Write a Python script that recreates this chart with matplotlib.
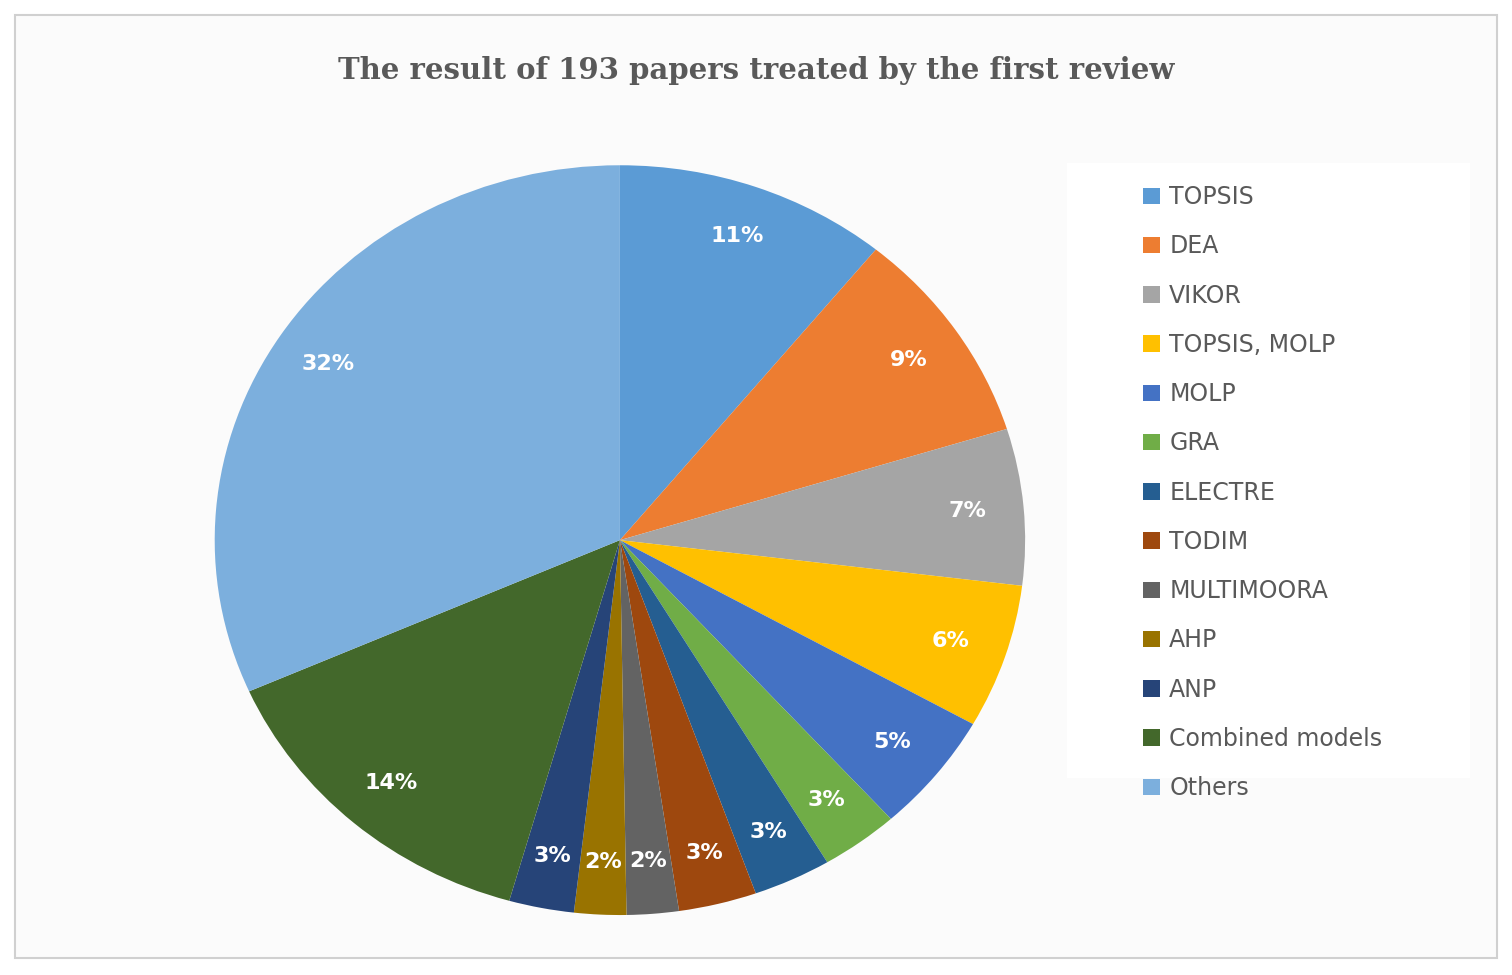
import matplotlib.pyplot as plt
from matplotlib.patches import Rectangle

methods = ["TOPSIS", "DEA", "VIKOR", "TOPSIS, MOLP", "MOLP", "GRA", "ELECTRE",
           "TODIM", "MULTIMOORA", "AHP", "ANP", "Combined models", "Others"]
papers = [21, 18, 13, 12, 10, 6, 6, 6, 4, 4, 5, 27, 61]
colors = ["#5B9BD5", "#ED7D31", "#A5A5A5", "#FFC000", "#4472C4", "#70AD47",
          "#255E91", "#9E480E", "#636363", "#997300", "#264478", "#43682B",
          "#7CAFDD"]
total = sum(papers)

fig = plt.figure(figsize=(15.12, 9.75), dpi=100)
fig.patches.append(Rectangle((0.010, 0.017), 0.980, 0.968, transform=fig.transFigure,
                             facecolor="#fbfbfb", edgecolor="#d0d0d0", lw=1.5,
                             zorder=-10))
fig.patches.append(Rectangle((0.706, 0.202), 0.266, 0.631, transform=fig.transFigure,
                             facecolor="white", edgecolor="none", zorder=-9))

ax = fig.add_axes([0.142, 0.0615, 0.536, 0.769])
ax.patch.set_visible(False)
wedges, _, autotexts = ax.pie(
    papers, colors=colors, startangle=90, counterclock=False,
    autopct=lambda p: f"{p:.0f}%",
    pctdistance=0.86, wedgeprops=dict(linewidth=0),
    textprops=dict(color="white", fontsize=16, fontweight="bold"))
ax.set_aspect("auto")
ax.set_xlim(-1, 1)
ax.set_ylim(-1, 1)

fig.text(0.5, 0.928, "The result of 193 papers treated by the first review",
         ha="center", va="center", fontsize=21, fontweight="bold",
         family="DejaVu Serif", color="#595959")

leg = fig.legend(wedges, methods, loc="upper left", bbox_to_anchor=(0.742, 0.832),
                 frameon=False, fontsize=17, handlelength=0.7, handleheight=0.7,
                 handletextpad=0.4, labelspacing=1.07, labelcolor="#595959")

fig.savefig("out.png", dpi=100)
